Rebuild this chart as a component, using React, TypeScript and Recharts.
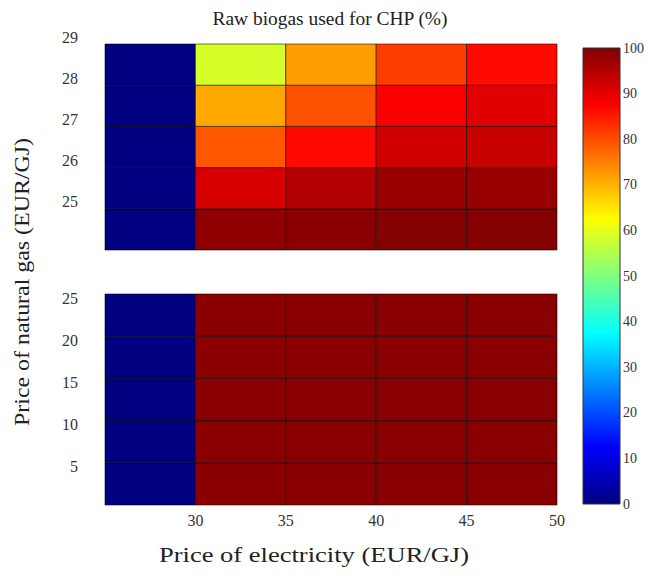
import React from 'react';
import { ComposedChart, XAxis, YAxis, ReferenceArea, Scatter } from 'recharts';

// ---- data ----
const electricityEdges = [25, 30, 35, 40, 45, 50];
const gasEdgesTop = [24, 25, 26, 27, 28, 29];
const gasEdgesBottom = [0, 5, 10, 15, 20, 25];
const xTicks = [30, 35, 40, 45, 50];
const yTicksTop = [25, 26, 27, 28, 29];
const yTicksBottom = [5, 10, 15, 20, 25];
const colorbarTicks = [0, 10, 20, 30, 40, 50, 60, 70, 80, 90, 100];

// raw biogas used for CHP (%) ; rows listed from lowest gas price to highest
const topValues = [
  [0, 98.5, 99, 99.5, 99.5],
  [0, 91.5, 95, 97.5, 97.5],
  [0, 79, 86.5, 92, 93],
  [0, 71, 79.5, 88, 90.5],
  [0, 58.5, 72, 81.5, 86.5],
];
const bottomValues = [
  [0, 99, 99, 99, 99],
  [0, 99, 99, 99, 99],
  [0, 99, 99, 99, 99],
  [0, 99, 99, 99, 99],
  [0, 99, 99, 99, 99],
];

const titleText = 'Raw biogas used for CHP (%)';
const xLabelText = 'Price of electricity  (EUR/GJ)';
const yLabelText = 'Price of natural gas  (EUR/GJ)';

// ---- helpers ----
const jet = (v: number) => {
  const t = v / 100;
  const c = (x: number) => Math.round(255 * Math.max(0, Math.min(1, 1.5 - Math.abs(x))));
  return `rgb(${c(4 * t - 3)},${c(4 * t - 2)},${c(4 * t - 1)})`;
};

const FONT = '"Liberation Serif", serif';
const serif = { fontFamily: FONT };

const buildCells = (values: number[][], yEdges: number[]) => {
  const cells: { x1: number; x2: number; y1: number; y2: number; v: number; cx: number; cy: number }[] = [];
  values.forEach((row, r) => {
    row.forEach((v, c) => {
      cells.push({
        x1: electricityEdges[c],
        x2: electricityEdges[c + 1],
        y1: yEdges[r],
        y2: yEdges[r + 1],
        v,
        cx: (electricityEdges[c] + electricityEdges[c + 1]) / 2,
        cy: (yEdges[r] + yEdges[r + 1]) / 2,
      });
    });
  });
  return cells;
};

const topCells = buildCells(topValues, gasEdgesTop);
const bottomCells = buildCells(bottomValues, gasEdgesBottom);

const makeYTick = (shift: number) => (props: any) => (
  <text
    x={props.x}
    y={props.y + shift}
    textAnchor="end"
    dominantBaseline="central"
    fontSize={16}
    style={serif}
    fill="#333"
  >
    {props.payload.value}
  </text>
);

const XTick = (props: any) => (
  <text x={props.x} y={props.y} dy="0.71em" textAnchor="middle" fontSize={16} style={serif} fill="#333">
    {props.payload.value}
  </text>
);

const CbTick = (props: any) => (
  <text x={props.x} y={props.y} textAnchor="start" dominantBaseline="central" fontSize={14} style={serif} fill="#333">
    {props.payload.value}
  </text>
);

const Panel = ({
  cells,
  yDomain,
  yTicks,
  tickShift,
  showX,
  height,
  margin,
}: {
  cells: ReturnType<typeof buildCells>;
  yDomain: [number, number];
  yTicks: number[];
  tickShift: number;
  showX: boolean;
  height: number;
  margin: { top: number; right: number; bottom: number; left: number };
}) => (
  <ComposedChart width={570} height={height} margin={margin} data={cells}>
    <XAxis
      type="number"
      dataKey="cx"
      domain={[electricityEdges[0], electricityEdges[electricityEdges.length - 1]]}
      ticks={xTicks}
      allowDataOverflow
      hide={!showX}
      axisLine={false}
      tickLine={false}
      tickMargin={4}
      height={30}
      tick={XTick}
    />
    <YAxis
      type="number"
      dataKey="cy"
      domain={yDomain}
      ticks={yTicks}
      allowDataOverflow
      width={60}
      axisLine={false}
      tickLine={false}
      tickMargin={21}
      tick={makeYTick(tickShift)}
    />
    {cells.map((c, i) => (
      <ReferenceArea
        key={i}
        x1={c.x1}
        x2={c.x2}
        y1={c.y1}
        y2={c.y2}
        fill={jet(c.v)}
        fillOpacity={1}
        stroke="#000"
        strokeOpacity={0.55}
        strokeWidth={1}
      />
    ))}
    <Scatter dataKey="cy" isAnimationActive={false} fill="none" shape={() => <g />} />
  </ComposedChart>
);

const cbData = colorbarTicks.map((t) => ({ x: 0.5, y: t }));

const Colorbar = () => (
  <ComposedChart width={91} height={581} margin={{ top: 48, right: 0, bottom: 77, left: 23 }} data={cbData}>
    <defs>
      <linearGradient id="jetGrad" x1="0" y1="1" x2="0" y2="0">
        <stop offset="0" stopColor="#000080" />
        <stop offset="0.125" stopColor="#0000ff" />
        <stop offset="0.375" stopColor="#00ffff" />
        <stop offset="0.625" stopColor="#ffff00" />
        <stop offset="0.875" stopColor="#ff0000" />
        <stop offset="1" stopColor="#800000" />
      </linearGradient>
    </defs>
    <XAxis type="number" dataKey="x" domain={[0, 1]} hide />
    <YAxis
      type="number"
      dataKey="y"
      orientation="right"
      domain={[0, 100]}
      ticks={colorbarTicks}
      width={31}
      axisLine={false}
      tickLine={false}
      tickSize={0}
      tickMargin={3}
      tick={CbTick}
    />
    <ReferenceArea x1={0} x2={1} y1={0} y2={100} fill="url(#jetGrad)" fillOpacity={1} stroke="#333" strokeWidth={1} />
    <Scatter dataKey="y" isAnimationActive={false} fill="none" shape={() => <g />} />
  </ComposedChart>
);

export default function App() {
  return (
    <div style={{ position: 'absolute', left: 0, top: 0, width: 651, height: 581, background: '#fff', overflow: 'hidden' }}>
      <div style={{ position: 'absolute', left: 0, top: 0 }}>
        <Panel
          cells={topCells}
          yDomain={[24, 29]}
          yTicks={yTicksTop}
          tickShift={-7}
          showX={false}
          height={260}
          margin={{ top: 44, right: 13, bottom: 10, left: 45 }}
        />
      </div>
      <div style={{ position: 'absolute', left: 0, top: 260 }}>
        <Panel
          cells={bottomCells}
          yDomain={[0, 25]}
          yTicks={yTicksBottom}
          tickShift={4}
          showX={true}
          height={321}
          margin={{ top: 34, right: 13, bottom: 46, left: 45 }}
        />
      </div>
      <div style={{ position: 'absolute', left: 560, top: 0 }}>
        <Colorbar />
      </div>
      <svg width={651} height={581} style={{ position: 'absolute', left: 0, top: 0, pointerEvents: 'none' }}>
        <text x={330} y={25} textAnchor="middle" fontSize={18} style={serif} fill="#222" textLength={235} lengthAdjust="spacingAndGlyphs">
          {titleText}
        </text>
        <text x={314} y={562} textAnchor="middle" fontSize={20} style={serif} fill="#222" textLength={310} lengthAdjust="spacingAndGlyphs">
          {xLabelText}
        </text>
        <text
          x={0}
          y={0}
          transform="translate(29,282) rotate(-90)"
          textAnchor="middle"
          fontSize={20}
          style={serif}
          fill="#222"
          textLength={288}
          lengthAdjust="spacingAndGlyphs"
        >
          {yLabelText}
        </text>
      </svg>
    </div>
  );
}
